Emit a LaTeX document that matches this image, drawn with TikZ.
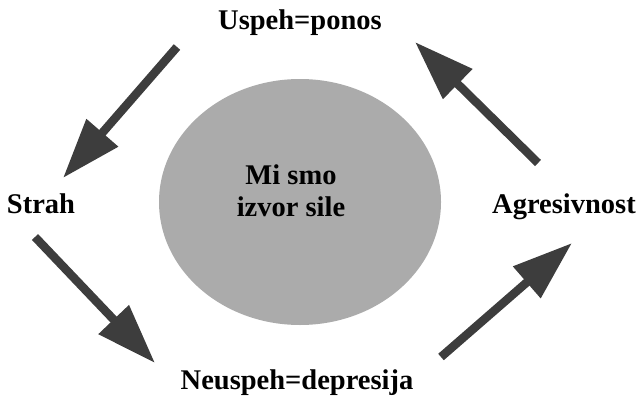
\documentclass[tikz,border=0pt]{standalone}
\usepackage{fontspec}
\setmainfont{Liberation Serif}
\usepackage{tikz}
\usetikzlibrary{arrows.meta, shapes.geometric}
\definecolor{arrowgray}{RGB}{61, 61, 61}
\definecolor{coregray}{RGB}{171, 171, 171}

\begin{document}
\begin{tikzpicture}[
    x=1pt, y=-1pt,
    label/.style={inner sep=0pt, anchor=base, font=\fontsize{28.5}{32}\selectfont\bfseries},
    core/.style={draw=none, ellipse, fill=coregray, minimum width=282pt, minimum height=246pt},
    arrow/.style={-{Triangle[length=60pt, width=40pt]}, line width=8.5pt, arrowgray}
]
\useasboundingbox (0,0) rectangle (639,396);

\node[core] (center) at (300,202) {};
\node[label, anchor=center, align=center] (core text) at (291,191) {Mi smo\\izvor sile};

\node[label] (uspeh) at (300,30) {Uspeh=ponos};
\node[label] (strah) at (41,213) {Strah};
\node[label] (agres) at (564,213) {Agresivnost};
\node[label] (neuspeh) at (297,389) {Neuspeh=depresija};

% arrow ends
\coordinate (us-tail) at (177,47);
\coordinate (st-tip) at (63,178);
\coordinate (st-tail) at (35,237);
\coordinate (ne-tip) at (155,363);
\coordinate (ne-tail) at (441,357);
\coordinate (ag-tip) at (572,243);
\coordinate (ag-tail) at (538,163);
\coordinate (us-tip) at (415,42);

\draw[arrow] (us-tail) -- (st-tip);
\draw[arrow] (st-tail) -- (ne-tip);
\draw[arrow] (ne-tail) -- (ag-tip);
\draw[arrow] (ag-tail) -- (us-tip);
\end{tikzpicture}
\end{document}
